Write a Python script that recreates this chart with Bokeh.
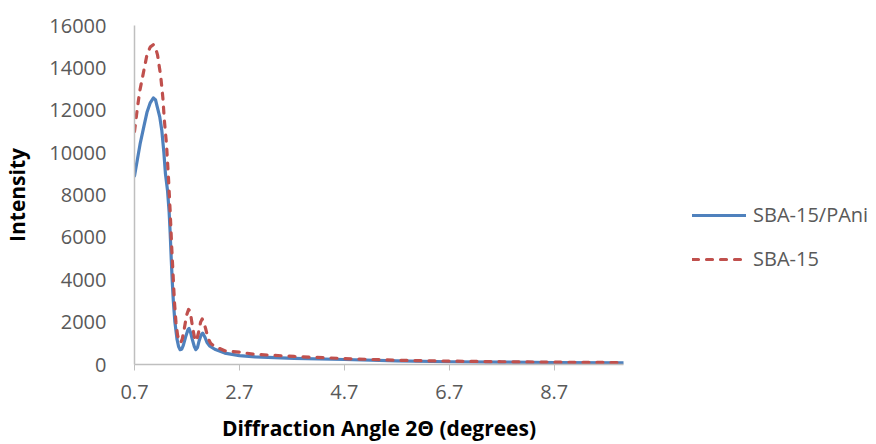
from bokeh.plotting import figure
from bokeh.models import FixedTicker, Legend, LegendItem
from bokeh.layouts import row
from bokeh.embed import file_html
from bokeh.resources import INLINE

# data
angle_pani = [0.70, 0.76, 0.81, 0.88, 0.94, 1.00, 1.06, 1.10, 1.13, 1.18, 1.22, 1.26, 1.29, 1.33, 1.36,
              1.38, 1.40, 1.42, 1.44, 1.47, 1.51, 1.54, 1.57, 1.60, 1.63, 1.68, 1.72, 1.74, 1.77, 1.80,
              1.84, 1.87, 1.90, 1.93, 1.97, 2.00, 2.04, 2.08, 2.13, 2.23, 2.42, 2.70, 3.00, 3.74, 4.70,
              5.70, 6.70, 7.70, 8.70, 10.02]
intensity_pani = [8900, 9750, 10450, 11250, 11920, 12350, 12580, 12500, 12200, 11700, 11060, 10000, 9000, 8200, 7200,
                  6200, 5000, 3900, 3000, 2000, 1200, 850, 700, 720, 900, 1350, 1650, 1700, 1500, 1200,
                  850, 700, 800, 1100, 1400, 1480, 1300, 1050, 880, 720, 540, 420, 360, 290, 235,
                  170, 130, 110, 95, 80]

angle_sba = [0.70, 0.76, 0.80, 0.88, 0.94, 1.00, 1.06, 1.10, 1.14, 1.20, 1.24, 1.27, 1.31, 1.35, 1.38,
             1.41, 1.44, 1.46, 1.49, 1.52, 1.55, 1.58, 1.61, 1.65, 1.69, 1.73, 1.75, 1.78, 1.81, 1.85,
             1.88, 1.92, 1.96, 1.99, 2.02, 2.06, 2.10, 2.15, 2.23, 2.42, 2.70, 3.00, 3.74, 4.70, 5.70,
             6.70, 7.70, 8.70, 10.02]
intensity_sba = [11000, 12200, 12900, 13900, 14650, 14980, 15100, 14950, 14600, 13600, 12600, 11500, 10400, 8700, 7200,
                 5500, 4000, 3000, 2000, 1400, 1100, 1030, 1200, 1700, 2300, 2600, 2550, 2200, 1700, 1200,
                 1100, 1500, 2000, 2150, 2000, 1650, 1250, 1000, 850, 650, 580, 480, 380, 280, 200,
                 160, 130, 110, 90]

x_ticks = [0.7, 2.7, 4.7, 6.7, 8.7]
y_ticks = [0, 2000, 4000, 6000, 8000, 10000, 12000, 14000, 16000]
series_names = ["SBA-15/PAni", "SBA-15"]

FONT = "Open Sans"
GRAY = "#595959"
BLUE = "#4F81BD"
RED = "#C0504D"

p = figure(width=630, height=444, output_backend="svg", toolbar_location=None,
           x_range=(0.7, 10.02), y_range=(0, 16000),
           min_border_left=129, min_border_right=7, min_border_top=25, min_border_bottom=79)
p.outline_line_color = None
p.xgrid.visible = False
p.ygrid.visible = False

p.line(angle_pani, intensity_pani, line_color=BLUE, line_width=3.2, line_join="round", line_cap="round")
p.line(angle_sba, intensity_sba, line_color=RED, line_width=3.2, line_dash="6 8",
       line_join="round", line_cap="round")

p.xaxis.ticker = FixedTicker(ticks=x_ticks)
p.yaxis.ticker = FixedTicker(ticks=y_ticks)
p.xaxis.minor_tick_line_color = None
p.yaxis.minor_tick_line_color = None
p.yaxis.major_tick_line_color = None
p.xaxis.major_tick_line_color = "#BFBFBF"
p.xaxis.major_tick_out = 6
p.xaxis.major_tick_in = 0
p.xaxis.axis_line_color = "#BFBFBF"
p.yaxis.axis_line_color = "#BFBFBF"
p.xaxis.axis_line_width = 1.5
p.yaxis.axis_line_width = 1.5
for ax in (p.xaxis, p.yaxis):
    ax.major_label_text_font = FONT
    ax.major_label_text_font_size = "20px"
    ax.major_label_text_color = GRAY
    ax.axis_label_text_font = FONT
    ax.axis_label_text_font_size = "21px"
    ax.axis_label_text_font_style = "bold"
    ax.axis_label_text_color = "black"
p.yaxis.major_label_standoff = 22
p.xaxis.major_label_standoff = 14
p.xaxis.axis_label = "Diffraction Angle 2Θ (degrees)"
p.yaxis.axis_label = "Intensity"
p.xaxis.axis_label_standoff = 12
p.yaxis.axis_label_standoff = 15

# legend drawn in a neighbouring panel; its series copies lie outside that panel's range
leg = figure(width=246, height=444, output_backend="svg", toolbar_location=None,
             x_axis_type=None, y_axis_type=None, x_range=(-20, -19), y_range=(0, 16000),
             min_border_left=0, min_border_right=0, min_border_top=0, min_border_bottom=0)
leg.outline_line_color = None
leg.xgrid.visible = False
leg.ygrid.visible = False
k1 = leg.line(angle_pani, intensity_pani, line_color=BLUE, line_width=3.2, line_cap="round")
k2 = leg.line(angle_sba, intensity_sba, line_color=RED, line_width=3.2, line_dash="6 8", line_cap="round")
legend = Legend(items=[LegendItem(label=series_names[0], renderers=[k1]),
                       LegendItem(label=series_names[1], renderers=[k2])],
                location=(62, 92), orientation="vertical",
                glyph_width=54, glyph_height=20, label_height=20, spacing=17,
                label_standoff=7, padding=0, margin=0,
                label_text_font=FONT, label_text_font_size="20px", label_text_color=GRAY,
                border_line_alpha=0, background_fill_alpha=0)
leg.add_layout(legend)

layout = row(p, leg, spacing=0)
open("out.html", "w").write(file_html(layout, INLINE))
